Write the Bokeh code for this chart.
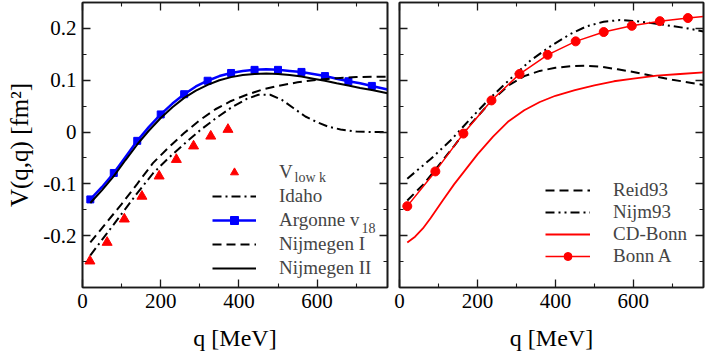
from bokeh.plotting import figure
from bokeh.models import (Range1d, LinearAxis, FixedTicker, Legend, LegendItem,
                          Label, CustomJSTickFormatter)
from bokeh.layouts import row
from bokeh.embed import file_html
from bokeh.resources import INLINE

FONT = "Liberation Serif"

# ---------------- data ----------------
x_major = [0, 200, 400, 600]
x_minor = [100, 300, 500, 700]
x_tick_labels = ["0", "200", "400", "600"]
y_major = [-0.2, -0.1, 0.0, 0.1, 0.2]
y_minor = [-0.25, -0.15, -0.05, 0.05, 0.15]
y_tick_labels = ["-0.2", "-0.1", "0", "0.1", "0.2"]

# left panel
vlowk_q = [19, 63, 107, 152, 196, 240, 284, 328, 372]
vlowk_v = [-0.249, -0.213, -0.168, -0.124, -0.085, -0.053, -0.027, -0.008, 0.005]

idaho_q = [20, 60, 100, 140, 180, 220, 260, 300, 340, 380, 420, 450, 480, 510,
           540, 570, 600, 630, 660, 700, 740, 780]
idaho_v = [-0.238, -0.198, -0.158, -0.118, -0.080, -0.050, -0.023, 0.003, 0.026,
           0.047, 0.064, 0.072, 0.072, 0.062, 0.046, 0.030, 0.019, 0.010, 0.005,
           0.001, 0.000, 0.000]

argonne_q = [20, 50, 80, 110, 140, 170, 200, 230, 260, 290, 320, 350, 380, 410,
             440, 470, 500, 530, 560, 590, 620, 650, 680, 710, 740, 780]
argonne_v = [-0.130, -0.106, -0.079, -0.048, -0.017, 0.010, 0.034, 0.055, 0.073,
             0.088, 0.099, 0.108, 0.114, 0.118, 0.120, 0.121, 0.120, 0.118, 0.116,
             0.112, 0.108, 0.103, 0.098, 0.094, 0.089, 0.082]
argonne_mark_q = [20, 80, 140, 200, 260, 320, 380, 440, 500, 560, 620, 680, 740]
argonne_mark_v = [-0.130, -0.079, -0.017, 0.034, 0.073, 0.099, 0.114, 0.120,
                  0.120, 0.116, 0.108, 0.098, 0.089]

nijm1_q = [20, 60, 100, 140, 180, 220, 260, 300, 340, 380, 420, 460, 500, 550,
           600, 650, 700, 780]
nijm1_v = [-0.213, -0.176, -0.139, -0.100, -0.060, -0.030, -0.002, 0.023, 0.044,
           0.060, 0.072, 0.082, 0.089, 0.096, 0.101, 0.104, 0.106, 0.107]

nijm2_q = argonne_q
nijm2_v = [-0.137, -0.112, -0.085, -0.054, -0.024, 0.003, 0.027, 0.048, 0.066,
           0.080, 0.091, 0.100, 0.106, 0.110, 0.112, 0.113, 0.112, 0.110, 0.107,
           0.103, 0.099, 0.094, 0.090, 0.085, 0.081, 0.075]

# right panel
reid_q = [20, 60, 100, 140, 180, 236, 280, 320, 360, 400, 440, 480, 520, 560,
          600, 650, 700, 780]
reid_v = [-0.132, -0.102, -0.065, -0.027, 0.013, 0.060, 0.090, 0.108, 0.118,
          0.124, 0.127, 0.128, 0.126, 0.121, 0.116, 0.108, 0.101, 0.091]

nijm93_q = [20, 80, 130, 180, 233, 285, 336, 390, 438, 480, 524, 566, 609, 650,
            695, 740, 780]
nijm93_v = [-0.090, -0.052, -0.017, 0.024, 0.066, 0.103, 0.138, 0.167, 0.189,
            0.204, 0.213, 0.216, 0.214, 0.210, 0.205, 0.200, 0.194]

cdbonn_q = [20, 40, 60, 80, 110, 140, 170, 200, 240, 280, 320, 360, 400, 450,
            500, 550, 600, 660, 720, 780]
cdbonn_v = [-0.213, -0.202, -0.186, -0.166, -0.133, -0.101, -0.072, -0.043,
            -0.009, 0.021, 0.042, 0.058, 0.070, 0.081, 0.090, 0.098, 0.103,
            0.109, 0.112, 0.115]

bonna_q = [20, 92, 164, 236, 308, 380, 452, 524, 596, 668, 740, 780]
bonna_v = [-0.143, -0.076, -0.003, 0.061, 0.112, 0.149, 0.175, 0.193, 0.205,
           0.214, 0.220, 0.223]
bonna_mark_q = bonna_q[:-1]
bonna_mark_v = bonna_v[:-1]

left_labels = ["V", "Idaho", "Argonne v", "Nijmegen I", "Nijmegen II"]
right_labels = ["Reid93", "Nijm93", "CD-Bonn", "Bonn A"]

# ---------------- layout ----------------
H = 353
X_RANGE = (0, 780)
Y_RANGE = (-0.3, 0.25)
AX_COLOR = "#1a1a1a"


def style_axis(ax, ticks, minor, labels=None, font_size="21px"):
    ax.ticker = FixedTicker(ticks=ticks, minor_ticks=minor)
    ax.major_tick_in = 8
    ax.major_tick_out = 0
    ax.minor_tick_in = 4
    ax.minor_tick_out = 0
    ax.axis_line_width = 1.6
    ax.axis_line_color = AX_COLOR
    ax.major_tick_line_width = 1.3
    ax.major_tick_line_color = AX_COLOR
    ax.minor_tick_line_width = 1.1
    ax.minor_tick_line_color = AX_COLOR
    ax.major_label_text_font = FONT
    ax.major_label_text_color = "black"
    if labels is None:
        ax.formatter = CustomJSTickFormatter(code="return ''")
        ax.major_label_text_font_size = "1px"
        ax.major_label_standoff = 0
    else:
        ax.major_label_overrides = {t: s for t, s in zip(ticks, labels)}
        ax.major_label_text_font_size = font_size
        ax.major_label_standoff = 6
    ax.axis_label_text_font = FONT
    ax.axis_label_text_font_style = "normal"
    ax.axis_label_text_font_size = "24px"
    ax.axis_label_text_color = "black"


def make_fig(width, bl, br, ylabels):
    p = figure(width=width, height=H, x_range=Range1d(*X_RANGE),
               y_range=Range1d(*Y_RANGE), output_backend="svg",
               toolbar_location=None, min_border_left=bl, min_border_right=br,
               min_border_top=2, min_border_bottom=66)
    p.xgrid.visible = False
    p.ygrid.visible = False
    p.outline_line_color = AX_COLOR
    p.outline_line_width = 1.6
    p.background_fill_color = "white"
    p.border_fill_color = "white"
    style_axis(p.xaxis[0], x_major, x_minor, x_tick_labels)
    p.xaxis[0].axis_label = "q [MeV]"
    p.xaxis[0].axis_label_standoff = 14
    if ylabels:
        style_axis(p.yaxis[0], y_major, y_minor, y_tick_labels)
        p.yaxis[0].axis_label = "V(q,q) [fm²]"
        p.yaxis[0].axis_label_text_font_size = "25px"
        p.yaxis[0].axis_label_standoff = 7
    else:
        style_axis(p.yaxis[0], y_major, y_minor, None)
    top = LinearAxis()
    style_axis(top, x_major, x_minor, None)
    p.add_layout(top, "above")
    right = LinearAxis()
    style_axis(right, y_major, y_minor, None)
    p.add_layout(right, "right")
    return p


p1 = make_fig(393, 82, 6, True)
p2 = make_fig(313, 6, 3, False)

# ---------------- left panel glyphs ----------------
r_tri = p1.scatter(vlowk_q, vlowk_v, marker="triangle", size=10,
                   fill_color="red", line_color="red")
r_idaho = p1.line(idaho_q, idaho_v, line_color="black", line_width=2,
                  line_dash="9 4 2 4")
r_arg_l = p1.line(argonne_q, argonne_v, line_color="blue", line_width=2.5)
r_arg_m = p1.scatter(argonne_mark_q, argonne_mark_v, marker="square", size=7,
                     fill_color="blue", line_color="blue")
r_n1 = p1.line(nijm1_q, nijm1_v, line_color="black", line_width=2,
               line_dash="9 5")
r_n2 = p1.line(nijm2_q, nijm2_v, line_color="black", line_width=2)

leg1 = Legend(items=[
    LegendItem(label=left_labels[0], renderers=[r_tri]),
    LegendItem(label=left_labels[1], renderers=[r_idaho]),
    LegendItem(label=left_labels[2], renderers=[r_arg_l, r_arg_m]),
    LegendItem(label=left_labels[3], renderers=[r_n1]),
    LegendItem(label=left_labels[4], renderers=[r_n2]),
], location=(130, 8), padding=0, margin=0, spacing=2,
    glyph_width=44, glyph_height=20, label_height=20, label_standoff=23,
    label_text_font=FONT, label_text_font_size="19px",
    border_line_alpha=0, background_fill_alpha=0)
p1.add_layout(leg1)

# subscripts (screen units relative to the frame)
p1.add_layout(Label(x=212, y=110, x_units="screen", y_units="screen",
                    text="low k", text_font=FONT, text_font_size="14px",
                    text_baseline="alphabetic"))
p1.add_layout(Label(x=279, y=60, x_units="screen", y_units="screen",
                    text="18", text_font=FONT, text_font_size="14px",
                    text_baseline="alphabetic"))

# ---------------- right panel glyphs ----------------
r_reid = p2.line(reid_q, reid_v, line_color="black", line_width=2,
                 line_dash="9 5")
r_n93 = p2.line(nijm93_q, nijm93_v, line_color="black", line_width=2,
                line_dash="9 4 2 4 2 4")
r_cd = p2.line(cdbonn_q, cdbonn_v, line_color="red", line_width=1.8)
r_ba_l = p2.line(bonna_q, bonna_v, line_color="red", line_width=1.5)
r_ba_m = p2.scatter(bonna_mark_q, bonna_mark_v, marker="circle", size=9,
                    fill_color="red", line_color="red")

leg2 = Legend(items=[
    LegendItem(label=right_labels[0], renderers=[r_reid]),
    LegendItem(label=right_labels[1], renderers=[r_n93]),
    LegendItem(label=right_labels[2], renderers=[r_cd]),
    LegendItem(label=right_labels[3], renderers=[r_ba_l, r_ba_m]),
], location=(146, 20), padding=0, margin=0, spacing=0,
    glyph_width=45, glyph_height=20, label_height=20, label_standoff=23,
    label_text_font=FONT, label_text_font_size="19px",
    border_line_alpha=0, background_fill_alpha=0)
p2.add_layout(leg2)

layout = row(p1, p2)
open("out.html", "w").write(file_html(layout, INLINE))
